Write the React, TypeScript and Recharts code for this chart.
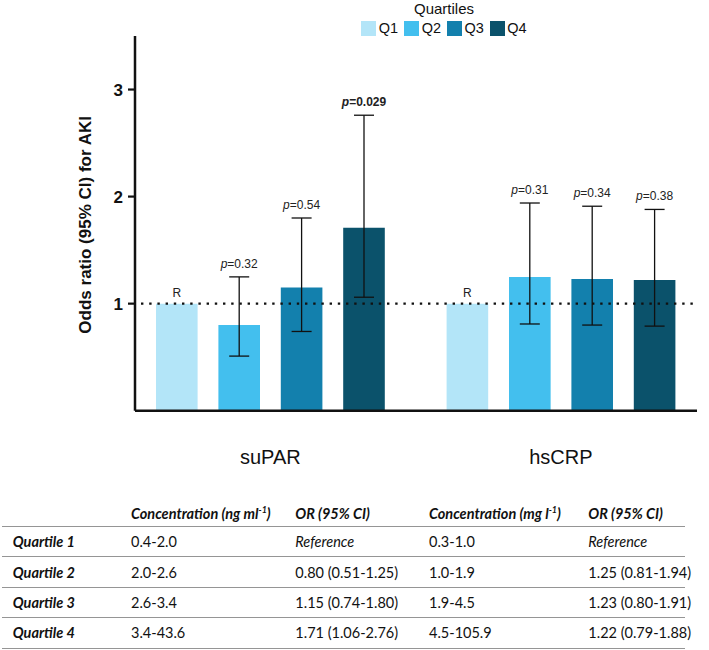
import React from 'react';
import { BarChart, Bar, XAxis, YAxis, ErrorBar, LabelList, ReferenceLine, Legend } from 'recharts';

const groups = ['suPAR', 'hsCRP'];
const quartiles = ['Q1', 'Q2', 'Q3', 'Q4'];
const colors = ['#b3e5f8', '#43bfee', '#1380ad', '#0b526b'];

const suparOR = [1, 0.8, 1.15, 1.71];
const suparLow = [1, 0.51, 0.74, 1.06];
const suparHigh = [1, 1.25, 1.8, 2.76];
const suparP = ['R', '0.32', '0.54', '0.029'];

const hscrpOR = [1, 1.25, 1.23, 1.22];
const hscrpLow = [1, 0.81, 0.8, 0.79];
const hscrpHigh = [1, 1.94, 1.91, 1.88];
const hscrpP = ['R', '0.31', '0.34', '0.38'];

const suparConc = ['0.4-2.0', '2.0-2.6', '2.6-3.4', '3.4-43.6'];
const hscrpConc = ['0.3-1.0', '1.0-1.9', '1.9-4.5', '4.5-105.9'];
const rowLabels = ['Quartile 1', 'Quartile 2', 'Quartile 3', 'Quartile 4'];
const yTicks = [1, 2, 3];
const yDomain = [0, 3.5];
const refValue = 1;

const series = [
  { or: suparOR, lo: suparLow, hi: suparHigh, p: suparP },
  { or: hscrpOR, lo: hscrpLow, hi: hscrpHigh, p: hscrpP },
];

const data = groups.map((name, g) => {
  const s = series[g];
  const row: any = { name };
  quartiles.forEach((_, i) => {
    row[`v${i}`] = s.or[i];
    row[`e${i}`] = [+(s.or[i] - s.lo[i]).toFixed(3), +(s.hi[i] - s.or[i]).toFixed(3)];
    row[`p${i}`] = s.p[i];
  });
  return row;
});

const FONT = '"Liberation Sans", Arial, Helvetica, sans-serif';
const TFONT = 'Lato, "Open Sans", sans-serif';

const makeLabel = (qi: number) => (props: any) => {
  const vb = props.viewBox ?? props;
  const x = Number(vb.x);
  const y = Number(vb.y);
  const w = Number(vb.width);
  const h = Number(vb.height);
  const text = String(props.value);
  let idx = data.findIndex((r) => r[`p${qi}`] === props.value);
  if (typeof props.index === 'number' && qi === 0) idx = props.index;
  if (idx < 0) idx = 0;
  const row = data[idx];
  const cx = x + w / 2;
  if (text === 'R') {
    return (
      <text x={cx} y={y - 7} textAnchor="middle" fontSize={12} fill="#222" fontFamily={FONT}>
        R
      </text>
    );
  }
  const val = row[`v${qi}`];
  const up = row[`e${qi}`][1];
  const capY = y - (up * h) / val;
  const sig = parseFloat(text) < 0.05;
  return (
    <text x={cx} y={capY - 9} textAnchor="middle" fontSize={12} fill="#222" fontFamily={FONT} fontWeight={sig ? 700 : 400}>
      <tspan fontStyle="italic">p</tspan>={text}
    </text>
  );
};

const renderLegend = (props: any) => {
  const payload = props.payload ?? [];
  return (
    <div
      style={{
        height: 36,
        width: 709,
        paddingLeft: 179,
        boxSizing: 'border-box',
        display: 'flex',
        flexDirection: 'column',
        alignItems: 'center',
        fontFamily: FONT,
        color: '#111',
      }}
    >
      <div style={{ fontSize: 15, lineHeight: '17px', height: 17, marginTop: 0 }}>Quartiles</div>
      <div style={{ display: 'flex', marginTop: 4, height: 15, alignItems: 'center' }}>
        {payload.map((p: any, i: number) => (
          <div key={i} style={{ display: 'flex', alignItems: 'center', marginRight: i < payload.length - 1 ? 6 : 0 }}>
            <div style={{ width: 15, height: 15, background: p.color }} />
            <span style={{ fontSize: 14.5, marginLeft: 2.5, lineHeight: '15px' }}>{p.value}</span>
          </div>
        ))}
      </div>
    </div>
  );
};

const renderYLabel = (props: any) => {
  const vb = props.viewBox;
  const cx = vb.x + 85;
  const cy = vb.y + vb.height / 2 + 1.5;
  return (
    <text
      transform={`translate(${cx}, ${cy}) rotate(-90)`}
      textAnchor="middle"
      dominantBaseline="central"
      fontSize={17}
      fontWeight={700}
      fill="#111"
      fontFamily={FONT}
    >
      Odds ratio (95% CI) for AKI
    </text>
  );
};

const colLefts = [12.7, 131, 295.3, 429, 588.3];

const orText = (s: any, i: number) =>
  i === 0 ? 'Reference' : `${s.or[i].toFixed(2)} (${s.lo[i].toFixed(2)}-${s.hi[i].toFixed(2)})`;

export default function App() {
  const cell = (left: number, content: any, style: any = {}) => (
    <span style={{ position: 'absolute', left, top: 0, bottom: 0, display: 'flex', alignItems: 'center', whiteSpace: 'nowrap', ...style }}>
      {content}
    </span>
  );
  const hdr = { fontWeight: 700, fontStyle: 'italic' };
  return (
    <div style={{ position: 'absolute', left: 0, top: 0, width: 709, height: 650, background: '#fff', overflow: 'hidden' }}>
      <BarChart
        width={709}
        height={480}
        data={data}
        margin={{ top: 0, right: 12, bottom: 9.3, left: 0 }}
        barSize={41.6}
        barGap={20.8}
      >
        <Legend verticalAlign="top" align="left" content={renderLegend} wrapperStyle={{ left: 0, top: 0, width: 709, height: 36 }} />
        <XAxis
          dataKey="name"
          height={60}
          tickLine={false}
          axisLine={{ stroke: '#111', strokeWidth: 2.5 }}
          tick={{ fontSize: 20, fill: '#111', fontFamily: FONT }}
          tickMargin={33}
          padding={{ left: -10, right: -9.2 }}
        />
        <YAxis
          width={135}
          domain={yDomain}
          ticks={yTicks}
          allowDataOverflow
          tickSize={7}
          tickMargin={5}
          tickLine={{ stroke: '#111', strokeWidth: 2.2 }}
          axisLine={{ stroke: '#111', strokeWidth: 2.5 }}
          tick={{ fontSize: 17, fontWeight: 700, fill: '#111', fontFamily: FONT }}
          label={renderYLabel}
        />
        <ReferenceLine y={refValue} stroke="#111" strokeWidth={2.3} strokeDasharray="2.4 5.8" strokeDashoffset={2.2} />
        {quartiles.map((q, i) => (
          <Bar key={q} dataKey={`v${i}`} name={q} fill={colors[i]} isAnimationActive={false}>
            {i > 0 && <ErrorBar dataKey={`e${i}`} width={10} stroke="#111" strokeWidth={1.3} direction="y" />}
            <LabelList dataKey={`p${i}`} content={makeLabel(i)} />
          </Bar>
        ))}
      </BarChart>
      <div style={{ position: 'absolute', left: 2, top: 496, width: 683, fontFamily: TFONT, fontSize: 14.5, color: '#111' }}>
        <div style={{ position: 'relative', height: 30, borderBottom: '1px solid #959595', paddingTop: 0 }}>
          <div style={{ position: 'absolute', left: 0, right: 0, top: 4, bottom: 0 }}>
            {cell(colLefts[1] - 2, <span>Concentration (ng ml<sup style={{ fontSize: 9, lineHeight: 0 }}>-1</sup>)</span>, hdr)}
            {cell(colLefts[2] - 2, 'OR (95% CI)', hdr)}
            {cell(colLefts[3] - 2, <span>Concentration (mg l<sup style={{ fontSize: 9, lineHeight: 0 }}>-1</sup>)</span>, hdr)}
            {cell(colLefts[4] - 2, 'OR (95% CI)', hdr)}
          </div>
        </div>
        {rowLabels.map((lab, i) => (
          <div key={lab} style={{ position: 'relative', height: 29.4, borderBottom: '1px solid #959595' }}>
            {cell(colLefts[0] - 2, lab, hdr)}
            {cell(colLefts[1] - 2, suparConc[i])}
            {cell(colLefts[2] - 2, orText(series[0], i), i === 0 ? { fontStyle: 'italic' } : {})}
            {cell(colLefts[3] - 2, hscrpConc[i])}
            {cell(colLefts[4] - 2, orText(series[1], i), i === 0 ? { fontStyle: 'italic' } : {})}
          </div>
        ))}
      </div>
    </div>
  );
}
